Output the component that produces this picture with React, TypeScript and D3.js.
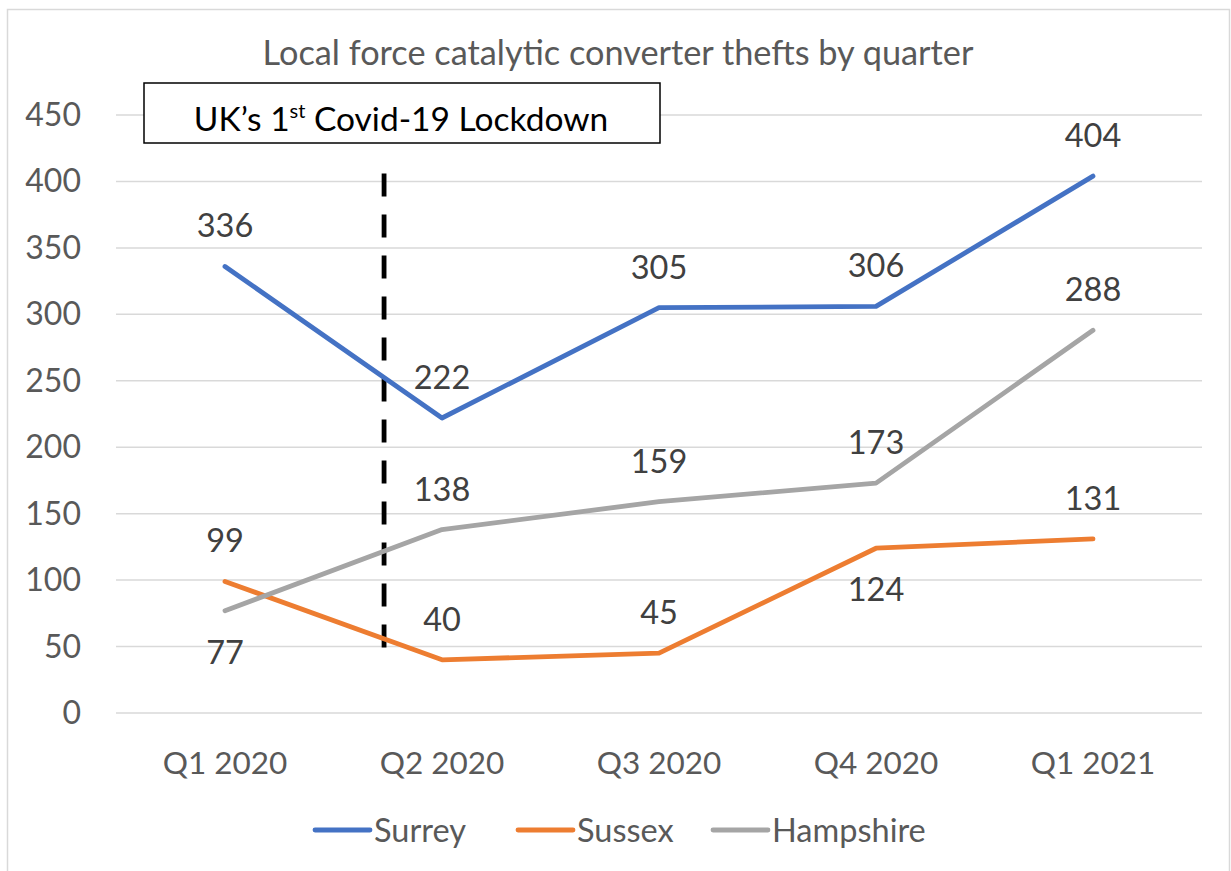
import React from "react";
import * as d3 from "d3";

const categories = ["Q1 2020", "Q2 2020", "Q3 2020", "Q4 2020", "Q1 2021"];
const surrey = [336, 222, 305, 306, 404];
const sussex = [99, 40, 45, 124, 131];
const hampshire = [77, 138, 159, 173, 288];
const yTicks = [0, 50, 100, 150, 200, 250, 300, 350, 400, 450];
const sussexLabelPos = ["above", "above", "above", "below", "above"];
const hampshireLabelPos = ["below", "above", "above", "above", "above"];
const surreyLabelPos = ["above", "above", "above", "above", "above"];

const FONT = "Lato, 'Open Sans', sans-serif";

export default function App() {
  const x = d3.scalePoint<string>().domain(categories).range([225, 1093]);
  const y = d3.scaleLinear().domain([0, 450]).range([713, 115]);
  const line = d3
    .line<number>()
    .x((_, i) => x(categories[i]) as number)
    .y((d) => y(d));

  const series = [
    { name: "Surrey", values: surrey, color: "#4472C4", pos: surreyLabelPos },
    { name: "Sussex", values: sussex, color: "#ED7D31", pos: sussexLabelPos },
    { name: "Hampshire", values: hampshire, color: "#A5A5A5", pos: hampshireLabelPos },
  ];

  // lockdown marker between Q1 and Q2 (fractional position)
  const lockX = (x(categories[0]) as number) + 0.733 * x.step();

  const legendX = [315, 518, 713];

  return (
    <svg
      width={1231}
      height={871}
      style={{ position: "absolute", left: 0, top: 0, background: "#fff" }}
      fontFamily={FONT}
    >
      <rect x={0} y={0} width={1231} height={871} fill="#fff" />
      <rect x={7.5} y={9.5} width={1222} height={870} fill="none" stroke="#d9d9d9" strokeWidth={1.5} />
      <text x={618} y={65} textAnchor="middle" fontSize={34.3} fill="#595959">
        Local force catalytic converter thefts by quarter
      </text>
      {yTicks.map((t) => (
        <g key={t}>
          <line x1={116} x2={1202} y1={y(t)} y2={y(t)} stroke="#d9d9d9" strokeWidth={1.5} />
          <text x={81} y={y(t) + 11} textAnchor="end" fontSize={32} fill="#595959">
            {t}
          </text>
        </g>
      ))}
      {categories.map((c) => (
        <text key={c} x={x(c)} y={774} textAnchor="middle" fontSize={31.5} fill="#595959">
          {c}
        </text>
      ))}
      <line
        x1={lockX}
        x2={lockX}
        y1={y(406)}
        y2={y(41)}
        stroke="#000"
        strokeWidth={4.8}
        strokeDasharray="23 18"
      />
      {series.map((s) => (
        <path
          key={s.name}
          d={line(s.values) || ""}
          fill="none"
          stroke={s.color}
          strokeWidth={4.8}
          strokeLinejoin="round"
          strokeLinecap="round"
        />
      ))}
      {series.map((s) =>
        s.values.map((v, i) => (
          <text
            key={s.name + i}
            x={x(categories[i])}
            y={s.pos[i] === "above" ? y(v) - 29 : y(v) + 53}
            textAnchor="middle"
            fontSize={32.5}
            fill="#404040"
          >
            {v}
          </text>
        ))
      )}
      <rect x={144} y={83} width={516} height={60} fill="#fff" stroke="#000" strokeWidth={1.5} />
      <text x={401} y={131} textAnchor="middle" fontSize={33.5} fill="#000">
        UK’s 1<tspan fontSize={20} dy={-13}>st</tspan>
        <tspan dy={13}> Covid-19 Lockdown</tspan>
      </text>
      {series.map((s, i) => (
        <g key={s.name}>
          <line
            x1={legendX[i]}
            x2={legendX[i] + 55}
            y1={830}
            y2={830}
            stroke={s.color}
            strokeWidth={4.8}
            strokeLinecap="round"
          />
          <text x={legendX[i] + 59} y={842} fontSize={32.5} fill="#595959">
            {s.name}
          </text>
        </g>
      ))}
    </svg>
  );
}
